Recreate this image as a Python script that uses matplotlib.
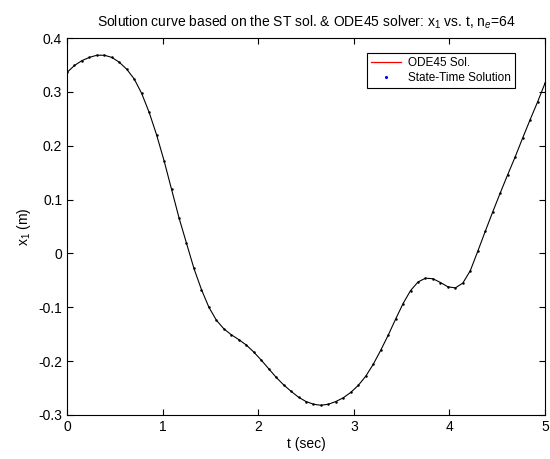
import matplotlib
matplotlib.use("Agg")
import matplotlib.pyplot as plt
from matplotlib.lines import Line2D
import numpy as np

plt.rcParams["font.family"] = ["Liberation Sans", "DejaVu Sans"]
plt.rcParams["mathtext.fontset"] = "custom"
plt.rcParams["mathtext.rm"] = "Liberation Sans"
plt.rcParams["mathtext.it"] = "Liberation Sans:italic"

# time grid of the state-time solution (n_e = 64 elements)
t = np.linspace(0, 5, 65)
x1 = [0.336, 0.349, 0.358, 0.364, 0.368, 0.368, 0.364, 0.355, 0.342, 0.324,
      0.297, 0.262, 0.220, 0.172, 0.119, 0.066, 0.019, -0.028, -0.067, -0.100,
      -0.124, -0.140, -0.151, -0.160, -0.170, -0.183, -0.198, -0.214, -0.230, -0.244,
      -0.256, -0.267, -0.275, -0.280, -0.282, -0.280, -0.275, -0.268, -0.258, -0.245,
      -0.228, -0.206, -0.180, -0.152, -0.122, -0.093, -0.069, -0.053, -0.046, -0.047,
      -0.054, -0.062, -0.064, -0.055, -0.032, 0.004, 0.041, 0.077, 0.112, 0.146,
      0.179, 0.214, 0.248, 0.281, 0.316]

xticks = [0, 1, 2, 3, 4, 5]
yticks = [-0.3, -0.2, -0.1, 0, 0.1, 0.2, 0.3, 0.4]

fig = plt.figure(figsize=(5.5, 4.59), dpi=100)
ax = fig.add_axes([0.1218, 0.0959, 0.8691, 0.8213])

ax.plot(t, x1, color="black", lw=0.8)
ax.plot(t, x1, ".", color="black", ms=1.6)

ax.set_xlim(0, 5)
ax.set_ylim(-0.3, 0.4)
ax.set_xticks(xticks)
ax.set_yticks(yticks)
ax.set_xticklabels(["0", "1", "2", "3", "4", "5"])
ax.set_yticklabels(["-0.3", "-0.2", "-0.1", "0", "0.1", "0.2", "0.3", "0.4"])
ax.tick_params(direction="in", top=True, right=True, labelsize=10, length=4, width=0.8)
for s in ax.spines.values():
    s.set_linewidth(0.8)

ax.set_title(r"Solution curve based on the ST sol. & ODE45 solver: x$_1$ vs. t, n$_e$=64",
             fontsize=10, pad=8)
ax.set_xlabel("t (sec)", fontsize=10, labelpad=2)
ax.set_ylabel(r"x$_1$ (m)", fontsize=10, labelpad=4)

handles = [Line2D([], [], color="red", lw=0.9),
           Line2D([], [], color="blue", marker=".", ls="", ms=2.5)]
leg = ax.legend(handles, ["ODE45 Sol.", "State-Time Solution"], loc="upper right",
                bbox_to_anchor=(0.937, 0.96), fontsize=8.5, fancybox=False,
                edgecolor="black", framealpha=1, borderpad=0.35, labelspacing=0.25,
                handlelength=2.5, handletextpad=0.6, borderaxespad=0)
leg.get_frame().set_linewidth(0.8)

fig.savefig("out.png", dpi=100)
